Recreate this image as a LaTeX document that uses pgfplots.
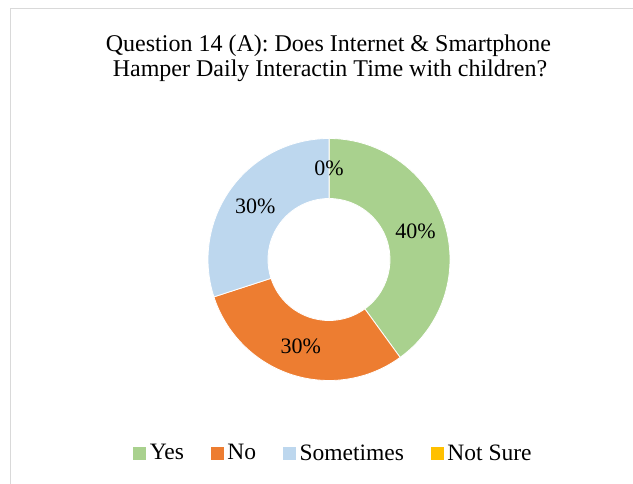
\documentclass[border=0pt]{standalone}
\usepackage{pgfplots}
\usepackage{pgfplotstable}
\pgfplotsset{compat=1.18}
\usepackage{fontspec}
\setmainfont{Liberation Serif}
\definecolor{cyes}{HTML}{A9D18E}
\definecolor{cno}{HTML}{ED7D31}
\definecolor{csome}{HTML}{BDD7EE}
\definecolor{cnot}{HTML}{FFC000}
\definecolor{cframe}{HTML}{D9D9D9}

\pgfplotstableread{
value color
40 cyes
30 cno
30 csome
0 cnot
}\piedata
\pgfplotstablecreatecol[expr accum={\pgfmathaccuma+\thisrow{value}}{0}]{cum}\piedata

\newcommand\pieCX{329}
\newcommand\pieCY{223.5}
\newcommand\pieRo{121}
\newcommand\pieRi{61}

\begin{document}
\begin{tikzpicture}
\useasboundingbox (0,0) rectangle (633pt,483pt);
\begin{axis}[
  at={(0,0)}, anchor=south west,
  scale only axis, width=633pt, height=483pt,
  xmin=0, xmax=633, ymin=0, ymax=483,
  hide axis, clip=false,
  legend columns=4,
  legend image code/.code={\fill[#1] (0pt,-6pt) rectangle (12pt,6pt);},
  legend style={at={(axis cs:333,30)}, anchor=center, draw=none, fill=none,
    font=\fontsize{23.5}{26}\selectfont,
    cells={anchor=west}, nodes={inner sep=1pt},
    /tikz/every odd column/.append style={column sep=3pt},
    /tikz/every even column/.append style={column sep=26pt}},
]
% frame
\draw[cframe, line width=1.5pt] (axis cs:10.5,-20) -- (axis cs:10.5,474.5) -- (axis cs:660,474.5);
% title
\node[anchor=base, font=\fontsize{24}{28}\selectfont] at (axis cs:328.5,431) {Question 14 (A): Does Internet \& Smartphone};
\node[anchor=base, font=\fontsize{24}{28}\selectfont] at (axis cs:330,406) {Hamper Daily Interactin Time with children?};
% slices
\pgfplotsforeachungrouped \i in {0,...,3}{%
  \pgfplotstablegetelem{\i}{value}\of\piedata \let\pieV\pgfplotsretval
  \pgfplotstablegetelem{\i}{cum}\of\piedata \let\pieC\pgfplotsretval
  \pgfplotstablegetelem{\i}{color}\of\piedata \let\pieCol\pgfplotsretval
  \pgfmathsetmacro\aS{90-3.6*(\pieC-\pieV)}
  \pgfmathsetmacro\aE{90-3.6*\pieC}
  \pgfmathsetmacro\xa{\pieCX+\pieRo*cos(\aS)}
  \pgfmathsetmacro\ya{\pieCY+\pieRo*sin(\aS)}
  \pgfmathsetmacro\xb{\pieCX+\pieRi*cos(\aE)}
  \pgfmathsetmacro\yb{\pieCY+\pieRi*sin(\aE)}
  \edef\tmp{\noexpand\fill[\pieCol, draw=white, line width=0.8pt] (axis cs:\xa,\ya) arc[start angle=\aS, end angle=\aE, radius=\pieRo pt] -- (axis cs:\xb,\yb) arc[start angle=\aE, end angle=\aS, radius=\pieRi pt] -- cycle;}%
  \tmp
}
\pgfplotsforeachungrouped \i in {0,...,3}{%
  \pgfplotstablegetelem{\i}{value}\of\piedata \let\pieV\pgfplotsretval
  \pgfplotstablegetelem{\i}{cum}\of\piedata \let\pieC\pgfplotsretval
  \pgfmathsetmacro\aM{90-3.6*(\pieC-\pieV/2)}
  \pgfmathsetmacro\xm{\pieCX+91*cos(\aM)}
  \pgfmathsetmacro\ym{\pieCY+91*sin(\aM)}
  \edef\tmp{\noexpand\node[font=\noexpand\fontsize{22}{24}\noexpand\selectfont] at (axis cs:\xm,\ym) {\pieV\noexpand\%};}%
  \tmp
}
\addlegendimage{cyes}
\addlegendimage{cno}
\addlegendimage{csome}
\addlegendimage{cnot}
\legend{Yes, No, Sometimes, Not Sure}
\end{axis}
\end{tikzpicture}
\end{document}
